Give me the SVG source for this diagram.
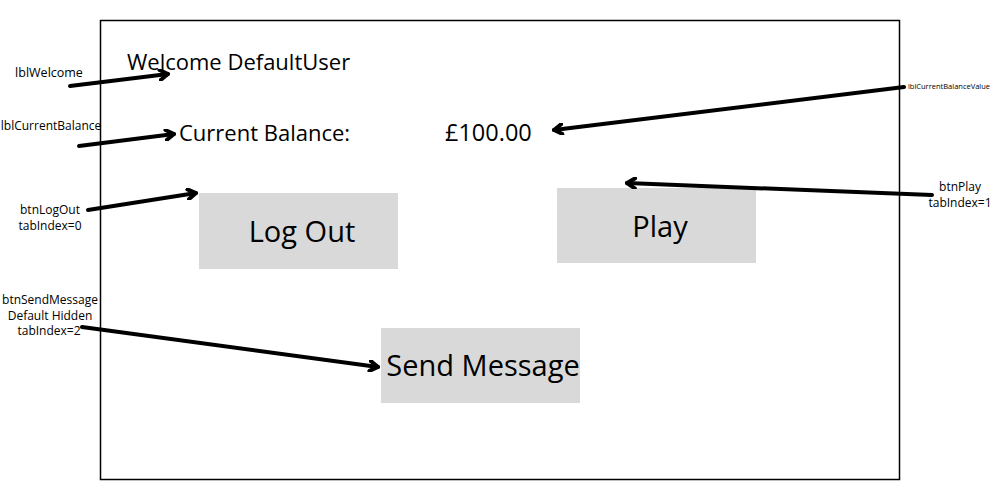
<svg xmlns="http://www.w3.org/2000/svg" width="1000" height="500" viewBox="0 0 1000 500">
<defs>
<style>
text{font-family:"Open Sans","Liberation Sans",sans-serif;fill:#000}
.big{font-size:29px}
.mid{font-size:22px}
.sm{font-size:12px}
.btn{fill:#d9d9d9}
.conn{stroke:#000;stroke-width:4;fill:none;stroke-linecap:round}
.head{stroke:#000;stroke-width:4;fill:none;stroke-linecap:round;stroke-linejoin:round}
</style>
<marker id="arr" viewBox="0 0 12 12" refX="10" refY="6" markerWidth="12" markerHeight="12" markerUnits="userSpaceOnUse" orient="auto">
<path d="M2,1 L10,6 L2,11" class="head" stroke-width="2.6"/>
</marker>
</defs>
<rect width="1000" height="500" fill="#fff"/>
<rect id="frame" x="100.5" y="20.5" width="799" height="459" fill="none" stroke="#000" stroke-width="1.5"/>
<g id="lblWelcome"><text class="mid" x="127" y="70">Welcome DefaultUser</text></g>
<g id="lblCurrentBalance"><text class="mid" x="179" y="141">Current Balance:</text></g>
<g id="lblCurrentBalanceValue"><text class="mid" x="445" y="141" style="font-size:23.5px">£100.00</text></g>
<g id="btnLogOut"><rect class="btn" x="199" y="193" width="199" height="76"/><text class="big" x="302" y="242" text-anchor="middle">Log Out</text></g>
<g id="btnPlay"><rect class="btn" x="557" y="188" width="199" height="75"/><text class="big" x="660" y="237" text-anchor="middle">Play</text></g>
<g id="btnSendMessage"><rect class="btn" x="381" y="328" width="199" height="75"/><text class="big" x="483" y="376" text-anchor="middle">Send Message</text></g>
<g id="annotations">
<text class="sm" x="49" y="77" text-anchor="middle" style="font-size:12.5px">lblWelcome</text>
<text class="sm" x="51" y="130" text-anchor="middle">lblCurrentBalance</text>
<text class="sm" x="50" y="214" text-anchor="middle">btnLogOut</text>
<text class="sm" x="50" y="230" text-anchor="middle">tabIndex=0</text>
<text x="949" y="89" text-anchor="middle" style="font-size:7.5px">lblCurrentBalanceValue</text>
<text class="sm" x="960" y="191" text-anchor="middle">btnPlay</text>
<text class="sm" x="960" y="207" text-anchor="middle">tabIndex=1</text>
<text class="sm" x="50" y="304" text-anchor="middle">btnSendMessage</text>
<text class="sm" x="50" y="320" text-anchor="middle">Default Hidden</text>
<text class="sm" x="49" y="335" text-anchor="middle">tabIndex=2</text>
</g>
<g id="connectors">
<line class="conn" x1="70" y1="86" x2="168" y2="74" marker-end="url(#arr)"/>
<line class="conn" x1="79" y1="146" x2="174" y2="134" marker-end="url(#arr)"/>
<line class="conn" x1="88" y1="210" x2="196" y2="193" marker-end="url(#arr)"/>
<line class="conn" x1="82" y1="327" x2="378" y2="367" marker-end="url(#arr)"/>
<line class="conn" x1="904" y1="87" x2="554" y2="130" marker-end="url(#arr)"/>
<line class="conn" x1="932" y1="195" x2="627" y2="183" marker-end="url(#arr)"/>
</g>
</svg>
